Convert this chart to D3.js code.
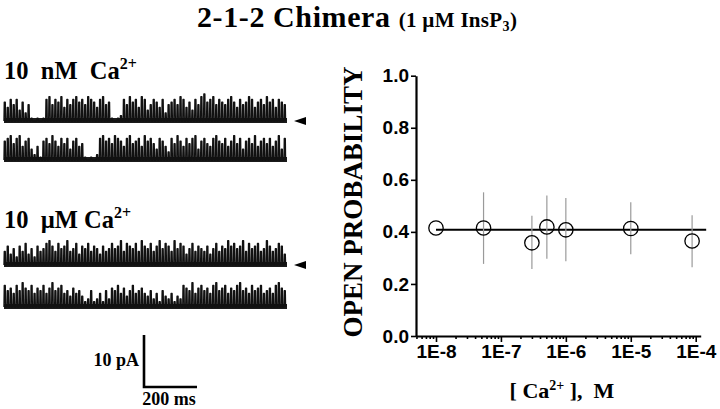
<!DOCTYPE html>
<html>
<head>
<meta charset="utf-8">
<script src="https://cdn.jsdelivr.net/npm/d3@7"></script>
<style>
  html, body { margin: 0; padding: 0; background: #fff; }
  svg { display: block; }
  .serif { font-family: "Liberation Serif", "Times New Roman", serif; font-weight: bold; }
  .sans { font-family: "Liberation Sans", Arial, sans-serif; font-weight: bold; }
</style>
</head>
<body>
<svg id="chart" width="720" height="409"></svg>
<script>
// ---------- data ----------
// [Ca2+] (M) and open probability (mean, lower / upper SEM bound)
const concentrations = [1e-8, 5.4e-8, 3e-7, 5.1e-7, 1e-6, 1e-5, 8.8e-5];
const openProb       = [0.415, 0.415, 0.358, 0.419, 0.408, 0.413, 0.365];
const errLow         = [null, 0.277, 0.257, 0.297, 0.287, 0.314, 0.264];
const errHigh        = [null, 0.552, 0.462, 0.540, 0.530, 0.514, 0.464];
const fitLevel = 0.408;
const fitRange = [1e-8, 1.45e-4];

const yTickValues = [0, 0.2, 0.4, 0.6, 0.8, 1.0];
const yTickLabels = ["0.0", "0.2", "0.4", "0.6", "0.8", "1.0"];
const xTickValues = [1e-8, 1e-7, 1e-6, 1e-5, 1e-4];
const xTickLabels = ["1E-8", "1E-7", "1E-6", "1E-5", "1E-4"];

// single-channel records: current level per sample (0 = closed, 10 = fully open)
const trace10nM_a = [7,5,8,6,8,4,7,3,6, 1,0,1,0,1, 8,9,6,8,7,9,5,8,6,8,9,7,8,6,9,8,7,5,8,9,6,7, 1,0,1,2, 8,6,9,7,8,5,9,8,4,6,8, 7,5,8,3,6,7, 8,6,9,8,5,7,4,8,6, 9,10,7,8,9,6, 8,7,6,8,9,7,5,8,6,7,9,8,5,7,8,6,9,7,8,5,8,7,6];
const trace10nM_b = [7,8,9,6,8,9,5,7,8,4, 2,5,1, 7,8,6,9,7,5,8,6,8,4,7,8,5,6, 1,0,1,0,2, 8,9,7,8,6,9,8,7,5,8,9,6,7,8,5,9,7,8,6,4,8,7,5,3, 8,6,9,7,5,8,6,8,9,4,7,8,6,5,8,9,7,6,8,5,7,9,6,8,4,7,8,6,9,5,7,8,6,8,5,7,9,4,8];
const trace10uM_a = [5,7,4,6,3,7,5,8,4,6,3,7,5,6,8,9, 7,5,8,6,7,9,5,6,8,4,7,6,8,5,7,6,4,7,5,6, 8,6,7,9,5,8,7,6,8,5,9,7,6,8,5,7,9,6,8,7,5,9,6,8,7,4,6,8,5,7, 6,5,7,4,6,8,5,7,6,9,7,8,6,7,9,5,8,6,7,8,5,6,9,7,5,6,8,7,4];
const trace10uM_b = [8,6,7,5,8,6,9,7,6,8,5,7,6,8,5,7,9,6,7,8,5,6,4,7,5,6, 4,2,3,6,2,3,5,2,6,3, 7,6,8,5,7,4,6,8,5,6,7,5, 4,6,3,5,2,6,4,3,5,2,4,3, 8,7,6,9,5,7,8,6,7,5,8,9,6,7,8,5,7,6,8,9,6,7,5,8,6,7,8,5,6,7,5,8,9,7,6];
const traceLabels = ["10\u00a0\u00a0nM\u00a0\u00a0Ca", "10\u00a0\u00a0\u00b5M Ca"];

// ---------- drawing ----------
const svg = d3.select("#chart");

// Title
const title = svg.append("text").attr("class", "serif").attr("x", 197).attr("y", 27)
  .attr("font-size", 30).attr("letter-spacing", 0.6).attr("fill", "#000");
title.append("tspan").text("2-1-2 Chimera ");
title.append("tspan").attr("font-size", 21).attr("letter-spacing", 0.3).text("(1 \u00b5M InsP");
title.append("tspan").attr("font-size", 14).attr("dy", 4).text("3");
title.append("tspan").attr("font-size", 21).attr("dy", -4).text(")");

// ---------- right panel: Po vs [Ca2+] ----------
const x = d3.scaleLog().domain([Math.pow(10, -8.308), Math.pow(10, -3.923)]).range([416, 700.7]);
const y = d3.scaleLinear().domain([0, 1]).range([336, 75.7]);

const minorTicks = [];
for (let e = -9; e <= -4; e++) {
  for (let m = 2; m <= 9; m++) {
    const v = m * Math.pow(10, e);
    if (v >= x.domain()[0] && v <= x.domain()[1]) minorTicks.push(v);
  }
}

const gx = svg.append("g").attr("transform", `translate(0,${y(0)})`)
  .call(d3.axisBottom(x).tickValues(xTickValues).tickSize(6).tickSizeOuter(0).tickPadding(3)
        .tickFormat((d, i) => xTickLabels[i]));
const gxMinor = svg.append("g").attr("transform", `translate(0,${y(0)})`)
  .call(d3.axisBottom(x).tickValues(minorTicks).tickSize(3).tickSizeOuter(0).tickFormat(""));
gxMinor.select(".domain").remove();

const gy = svg.append("g").attr("transform", `translate(${x.range()[0]},0)`)
  .call(d3.axisLeft(y).tickValues(yTickValues).tickSize(5).tickSizeOuter(0).tickPadding(2)
        .tickFormat((d, i) => yTickLabels[i]));

[gx, gy, gxMinor].forEach(g => {
  g.attr("font-family", null).attr("font-size", null);
  g.selectAll(".domain").attr("stroke", "#000").attr("stroke-width", 2.2);
  g.selectAll(".tick line").attr("stroke", "#000").attr("stroke-width", 1.6);
  g.selectAll(".tick text").attr("class", "sans").attr("font-size", 19).attr("fill", "#000");
});

// y-axis title
svg.append("text").attr("class", "serif")
  .attr("transform", "translate(362,202) rotate(-90)")
  .attr("text-anchor", "middle").attr("font-size", 27).attr("fill", "#000")
  .text("OPEN PROBABILITY");

// x-axis title
const xt = svg.append("text").attr("class", "serif")
  .attr("x", 562).attr("y", 398).attr("text-anchor", "middle").attr("font-size", 22).attr("fill", "#000");
xt.append("tspan").text("[ Ca");
xt.append("tspan").attr("font-size", 14).attr("dy", -8).text("2+");
xt.append("tspan").attr("dy", 8).text(" ],\u00a0\u00a0M");

// fit line
svg.append("line")
  .attr("x1", x(fitRange[0])).attr("x2", x(fitRange[1]))
  .attr("y1", y(fitLevel)).attr("y2", y(fitLevel))
  .attr("stroke", "#000").attr("stroke-width", 2);

const pts = concentrations.map((c, i) => ({ c, po: openProb[i], lo: errLow[i], hi: errHigh[i] }));

svg.append("g").selectAll("line").data(pts.filter(d => d.lo !== null)).join("line")
  .attr("x1", d => x(d.c)).attr("x2", d => x(d.c))
  .attr("y1", d => y(d.lo)).attr("y2", d => y(d.hi))
  .attr("stroke", "#9a9a9a").attr("stroke-width", 1.2);

svg.append("g").selectAll("ellipse").data(pts).join("ellipse")
  .attr("cx", d => x(d.c)).attr("cy", d => y(d.po))
  .attr("rx", 7.2).attr("ry", 7.2)
  .attr("fill", "none").attr("stroke", "#000").attr("stroke-width", 1.3);

// ---------- left panel: single-channel traces ----------
const ampScale = d3.scaleLinear().domain([0, 10]).range([0, -27]);
const traces = [
  { data: trace10nM_a, base: 121, arrow: true },
  { data: trace10nM_b, base: 160, arrow: false },
  { data: trace10uM_a, base: 265, arrow: true },
  { data: trace10uM_b, base: 307, arrow: false }
];

traces.forEach(tr => {
  const t = d3.scaleLinear().domain([0, tr.data.length]).range([4, 287]);
  // closed-level noise band
  svg.append("line")
    .attr("x1", t(0)).attr("x2", t(tr.data.length))
    .attr("y1", tr.base - 0.5).attr("y2", tr.base - 0.5)
    .attr("stroke", "#1a1a1a").attr("stroke-width", 5);
  const pts = [];
  tr.data.forEach((v, i) => {
    pts.push([i, 0], [i + 0.1, v], [i + 0.42, v], [i + 0.52, 0]);
  });
  const line = d3.line().x(d => t(d[0])).y(d => tr.base + ampScale(d[1]));
  svg.append("path").attr("d", line(pts))
    .attr("fill", "none").attr("stroke", "#111").attr("stroke-width", 1.4)
    .attr("stroke-linejoin", "round");
  if (tr.arrow) {
    svg.append("path")
      .attr("d", `M${294},${tr.base} L${306},${tr.base - 4} L${306},${tr.base + 4} Z`)
      .attr("fill", "#000");
  }
});

// trace labels
[{ y: 79, txt: traceLabels[0] }, { y: 228, txt: traceLabels[1] }].forEach(l => {
  const t = svg.append("text").attr("class", "serif").attr("x", 4).attr("y", l.y)
    .attr("font-size", 24.5).attr("fill", "#000");
  t.append("tspan").text(l.txt);
  t.append("tspan").attr("font-size", 16).attr("dy", -10).text("2+");
});

// scale bar
svg.append("path").attr("d", "M144,335 L144,387 L197,387")
  .attr("fill", "none").attr("stroke", "#000").attr("stroke-width", 2.6);
svg.append("text").attr("class", "serif").attr("x", 139).attr("y", 366)
  .attr("text-anchor", "end").attr("font-size", 18).text("10 pA");
svg.append("text").attr("class", "serif").attr("x", 169).attr("y", 405)
  .attr("text-anchor", "middle").attr("font-size", 18).text("200 ms");
</script>
</body>
</html>
